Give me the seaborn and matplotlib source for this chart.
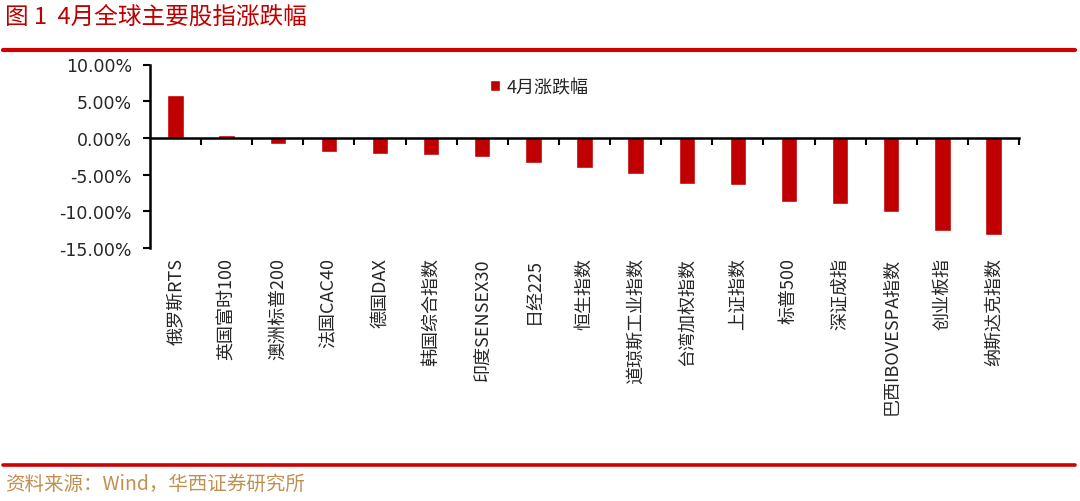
import matplotlib
matplotlib.use("Agg")
import matplotlib.pyplot as plt
from matplotlib.lines import Line2D
from matplotlib.ticker import FixedLocator, FuncFormatter
import seaborn as sns
import pandas as pd

categories = ["俄罗斯RTS", "英国富时100", "澳洲标普200", "法国CAC40", "德国DAX",
              "韩国综合指数", "印度SENSEX30", "日经225", "恒生指数", "道琼斯工业指数",
              "台湾加权指数", "上证指数", "标普500", "深证成指", "巴西IBOVESPA指数",
              "创业板指", "纳斯达克指数"]
values = [5.85, 0.35, -0.85, -1.89, -2.16, -2.30, -2.57, -3.47, -4.10, -4.90,
          -6.26, -6.35, -8.78, -9.00, -10.05, -12.75, -13.24]
series_name = "4月涨跌幅"
title_text = "图 1  4月全球主要股指涨跌幅"
source_text = "资料来源：Wind，华西证券研究所"
yticks = [10, 5, 0, -5, -10, -15]

RED = "#C00000"

sns.set_theme(style="white")
plt.rcParams["font.family"] = ["Noto Sans CJK SC", "DejaVu Sans"]
plt.rcParams["axes.unicode_minus"] = False

df = pd.DataFrame({"index": categories, "value": values, "series": series_name})

fig = plt.figure(figsize=(10.8, 5.02), dpi=100)
ax = fig.add_axes([150 / 1080, 1 - 249 / 502, 869 / 1080, (249 - 65.5) / 502])

sns.barplot(data=df, x="index", y="value", hue="series", palette=[RED],
            width=0.32, saturation=1, ax=ax, legend=True)

ax.set_xlim(-0.5, len(categories) - 0.5)
ax.set_ylim(-15, 10)
ax.yaxis.set_major_locator(FixedLocator(yticks))
ax.yaxis.set_major_formatter(FuncFormatter(lambda v, p: f"{v:.2f}%"))
ax.set_xlabel("")
ax.set_ylabel("")

for s in ["top", "right"]:
    ax.spines[s].set_visible(False)
ax.spines["left"].set_color("black")
ax.spines["left"].set_linewidth(1.8)
ax.spines["bottom"].set_color("black")
ax.spines["bottom"].set_linewidth(1.8)
ax.spines["bottom"].set_position(("data", 0))

ax.tick_params(axis="y", which="major", direction="out", length=5, width=1.5,
               color="black", labelsize=12.5, pad=8, left=True)
for lbl in ax.get_yticklabels():
    lbl.set_fontfamily(["DejaVu Sans"])

ax.set_xticks(range(len(categories)))
ax.set_xticklabels(categories, rotation=90, fontsize=13, va="top", ha="center")
ax.set_xticks([i + 0.5 for i in range(len(categories))], minor=True)
ax.tick_params(axis="x", which="major", length=0, pad=86, bottom=True)
ax.tick_params(axis="x", which="minor", direction="out", length=5, width=1.5,
               color="black", bottom=True)
ax.grid(False)

leg = ax.legend(loc="center left", bbox_to_anchor=(0.383, 0.876), frameon=False,
                handlelength=0.55, handleheight=0.55, handletextpad=0.35,
                fontsize=13, borderaxespad=0)

fig.text(5 / 1080, 1 - 18 / 502, title_text, color=RED, fontsize=17,
         va="center", ha="left")
fig.add_artist(Line2D([3 / 1080, 1075 / 1080], [1 - 50.5 / 502, 1 - 50.5 / 502],
                      color="#D00000", linewidth=3, transform=fig.transFigure))
fig.add_artist(Line2D([3 / 1080, 1075 / 1080], [1 - 466 / 502, 1 - 466 / 502],
                      color="#D00000", linewidth=2.6, transform=fig.transFigure))
fig.text(5 / 1080, 1 - 484 / 502, source_text, color="#C09050", fontsize=14,
         va="center", ha="left")

fig.savefig("out.png", dpi=100)
